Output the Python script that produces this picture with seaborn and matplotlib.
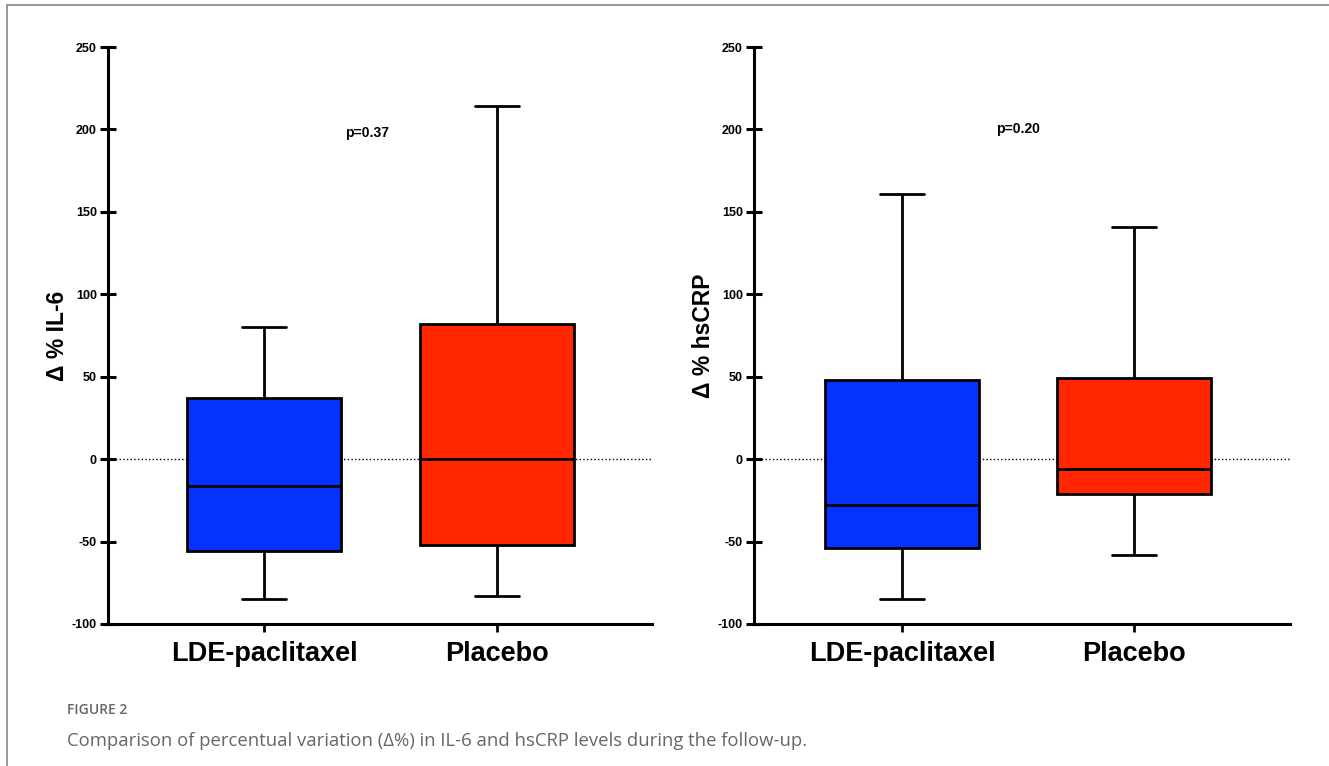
import pandas as pd
import matplotlib.pyplot as plt
import seaborn as sns
from matplotlib.lines import Line2D

# five-number summaries: min, Q1, median, Q3, max
groups = ["LDE-paclitaxel", "Placebo"]
il6_lde = [-85, -56, -16, 37, 80]
il6_placebo = [-83, -52, 0, 82, 214]
hscrp_lde = [-85, -54, -28, 48, 161]
hscrp_placebo = [-58, -21, -6, 49, 141]
p_values = ["p=0.37", "p=0.20"]
y_labels = ["Δ % IL-6", "Δ % hsCRP"]
y_ticks = [-100, -50, 0, 50, 100, 150, 200, 250]

palette = {"LDE-paclitaxel": "#0433FF", "Placebo": "#FF2600"}


def make_frame(lde, placebo):
    return pd.DataFrame({
        "Group": [groups[0]] * len(lde) + [groups[1]] * len(placebo),
        "Delta": lde + placebo,
    })


def draw_panel(ax, df, ylabel, ptext, ppos, xlim):
    ax.axhline(0, color="black", linestyle=":", linewidth=1, zorder=0)
    sns.boxplot(
        data=df, x="Group", y="Delta", hue="Group", order=groups,
        palette=palette, whis=(0, 100), width=0.66, linewidth=2,
        linecolor="black", saturation=1, legend=False, ax=ax,
        capwidths=0.19,
    )
    ax.set_ylim(-100, 250)
    ax.set_xlim(*xlim)
    ax.set_yticks(y_ticks)
    ax.set_xlabel("")
    ax.set_ylabel(ylabel, fontsize=16.5, fontweight="bold", labelpad=2)
    for side in ["top", "right"]:
        ax.spines[side].set_visible(False)
    for side in ["left", "bottom"]:
        ax.spines[side].set_linewidth(2.2)
    ax.tick_params(axis="y", direction="inout", length=12, width=2.2,
                   pad=2, labelsize=9)
    ax.tick_params(axis="x", direction="out", length=6, width=2,
                   pad=6, labelsize=19.5)
    for lab in ax.get_xticklabels() + ax.get_yticklabels():
        lab.set_fontweight("bold")
    ax.text(ppos[0], ppos[1], ptext, ha="center", va="center",
            fontsize=10, fontweight="bold")


sns.set_style("ticks")
plt.rcParams["font.family"] = ["Liberation Sans", "DejaVu Sans"]
plt.rcParams["axes.unicode_minus"] = False
for key in ["text.color", "axes.labelcolor", "xtick.color", "ytick.color",
            "axes.edgecolor"]:
    plt.rcParams[key] = "black"

fig = plt.figure(figsize=(13.29, 7.66), dpi=100)
ax1 = fig.add_axes([0.0813, 0.1854, 0.4093, 0.7532])
ax2 = fig.add_axes([0.5673, 0.1854, 0.4033, 0.7532])

draw_panel(ax1, make_frame(il6_lde, il6_placebo), y_labels[0], p_values[0],
           (0.44, 198), (-0.67, 1.665))
draw_panel(ax2, make_frame(hscrp_lde, hscrp_placebo), y_labels[1], p_values[1],
           (0.50, 200), (-0.638, 1.672))

# page frame and caption
fig.add_artist(Line2D([7 / 1329, 1], [1 - 5 / 766, 1 - 5 / 766],
                      color="#888888", linewidth=1.2))
fig.add_artist(Line2D([7 / 1329, 7 / 1329], [0, 1 - 5 / 766],
                      color="#888888", linewidth=1.2))
fig.text(67 / 1329, 1 - 710 / 766, "FIGURE 2", ha="left", va="center",
         fontsize=10, color="#666666", family="Open Sans", fontweight="semibold")
fig.text(67 / 1329, 1 - 741 / 766,
         "Comparison of percentual variation (Δ%) in IL-6 and hsCRP levels during the follow-up.",
         ha="left", va="center", fontsize=13.3, color="#666666", family="Open Sans")

fig.savefig("out.png", dpi=100)
